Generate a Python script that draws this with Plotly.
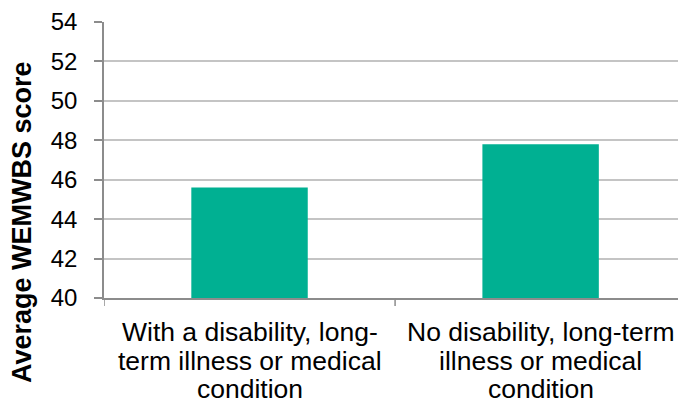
import plotly.graph_objects as go

categories = [
    "With a disability, long-term illness or medical condition",
    "No disability, long-term illness or medical condition",
]
# wrapped label lines for each category
category_lines = [
    ["With a disability, long-", "term illness or medical", "condition"],
    ["No disability, long-term", "illness or medical", "condition"],
]
scores = [45.6, 47.8]
y_ticks = [40, 42, 44, 46, 48, 50, 52, 54]
y_title = "Average WEMWBS score"

font_family = "Liberation Sans, Arial, sans-serif"
axis_grey = "#8C8C8C"

fig = go.Figure(
    go.Bar(
        x=list(range(len(categories))),
        y=scores,
        width=0.4,
        hovertext=categories,
        marker=dict(color="#00B092", line=dict(width=0)),
    )
)

fig.update_layout(
    width=678,
    height=403,
    margin=dict(l=104, r=0, t=22, b=105),
    paper_bgcolor="white",
    plot_bgcolor="white",
    showlegend=False,
    font=dict(family=font_family, color="#000000"),
)

fig.update_xaxes(
    range=[-0.5, 1.472],
    showticklabels=False,
    showline=True,
    linecolor=axis_grey,
    linewidth=1.5,
    ticks="",
    showgrid=False,
    zeroline=False,
)

# category boundary ticks below the x axis
for xb in [-0.5, 0.5, 1.5]:
    fig.add_shape(
        type="line", xref="x", yref="paper",
        x0=xb, x1=xb, y0=0, y1=-0.029,
        line=dict(color=axis_grey, width=1.5),
    )

# category labels, one annotation per wrapped line
line_shifts = [-17, -46, -73.5]
for i, lines in enumerate(category_lines):
    for text, shift in zip(lines, line_shifts):
        fig.add_annotation(
            x=i, y=0, xref="x", yref="paper",
            text=text, showarrow=False,
            xanchor="center", yanchor="top", yshift=shift,
            font=dict(size=26.5, family=font_family, color="#000000"),
        )

fig.update_yaxes(
    range=[40, 54],
    tickmode="array",
    tickvals=y_ticks,
    tickfont=dict(size=24, family=font_family),
    showline=True,
    linecolor=axis_grey,
    linewidth=1.5,
    ticks="outside",
    ticklen=8,
    tickcolor=axis_grey,
    tickwidth=1.5,
    ticklabelstandoff=12,
    showgrid=True,
    gridcolor="#C4C4C4",
    gridwidth=1.5,
    zeroline=False,
)

# rotated y-axis title
fig.add_annotation(
    x=-0.1429, y=0.275, xref="paper", yref="paper",
    text="<b>" + y_title + "</b>", showarrow=False,
    textangle=-90, xanchor="center", yanchor="middle",
    font=dict(size=27, family=font_family, color="#000000"),
)

fig.write_html("out.html")
